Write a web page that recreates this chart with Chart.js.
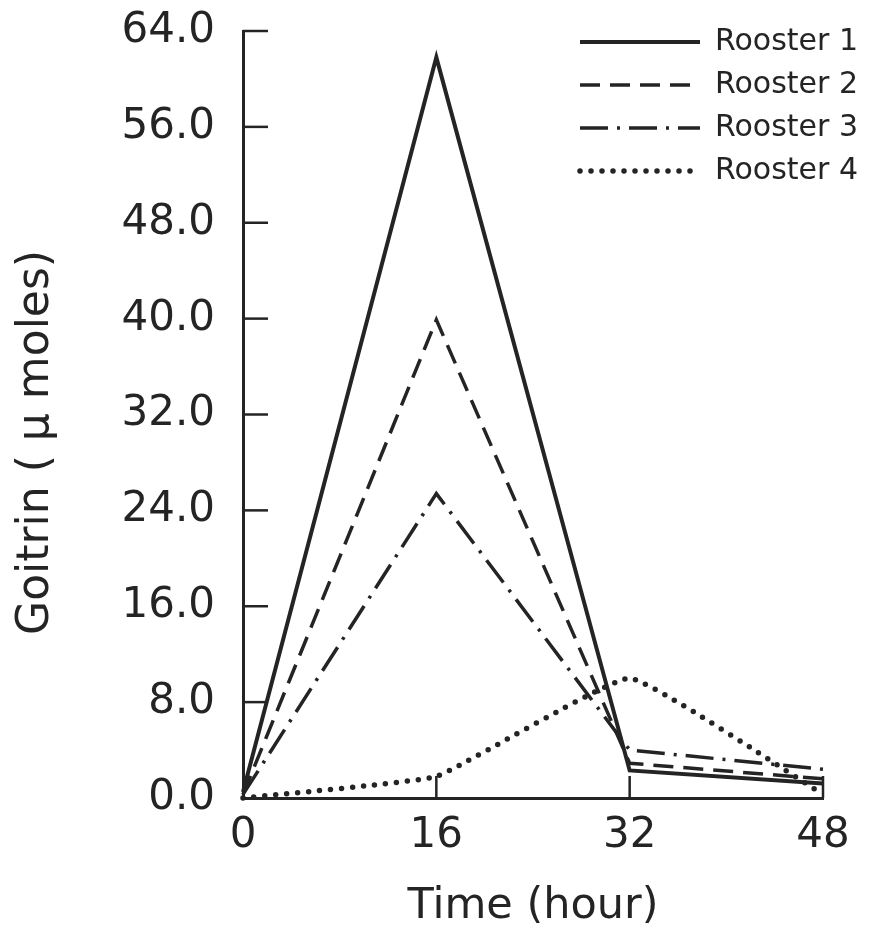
<!DOCTYPE html>
<html lang="en">
<head>
  <meta charset="UTF-8">
  <title>Goitrin by rooster</title>
  <script src="https://cdn.jsdelivr.net/npm/chart.js"></script>
  <style>
    html, body { margin: 0; padding: 0; background: #fff; }
    #wrap { width: 890px; height: 935px; }
  </style>
</head>
<body>
  <div id="wrap"><canvas id="goitrin"></canvas></div>

  <script>
    // values (umoles goitrin at each time point)
    const hours = [0, 16, 32, 48];
    const rooster1 = [0.5, 61.8, 2.3, 1.2];
    const rooster2 = [0.3, 39.9, 2.9, 1.6];
    const rooster3 = [0.3, 25.4, 4.0, 2.4];
    const rooster4 = [0.0, 1.8, 10.0, 0.3];
    const roosterNames = ['Rooster 1', 'Rooster 2', 'Rooster 3', 'Rooster 4'];
    const yTicks = [0, 8, 16, 24, 32, 40, 48, 56, 64];
    const xTicks = [0, 16, 32, 48];

    const ink = '#242424';
    const face = '"DejaVu Sans", sans-serif';

    function pts(vals) {
      return hours.map((h, i) => ({ x: h, y: vals[i] }));
    }

    // short tick marks pointing into the plot, like the original
    const innerTicks = {
      id: 'innerTicks',
      beforeDatasetsDraw(chart) {
        const { ctx, chartArea, scales } = chart;
        ctx.save();
        ctx.strokeStyle = ink;
        ctx.lineWidth = 2.5;
        yTicks.forEach(v => {
          if (v === 0) return;
          const py = scales.y.getPixelForValue(v);
          ctx.beginPath();
          ctx.moveTo(chartArea.left, py);
          ctx.lineTo(chartArea.left + 25, py);
          ctx.stroke();
        });
        xTicks.forEach(v => {
          if (v === 0) return;
          const px = scales.x.getPixelForValue(v);
          ctx.beginPath();
          ctx.moveTo(px, chartArea.bottom);
          ctx.lineTo(px, chartArea.bottom - 22);
          ctx.stroke();
        });
        ctx.restore();
      }
    };

    // move the legend box to the top right corner of the plot
    const legendSpot = {
      id: 'legendSpot',
      afterLayout(chart) {
        const lg = chart.legend;
        if (!lg) return;
        lg.left = 567;
        lg.right = 890;
        lg.width = lg.right - lg.left;
        lg.top = 14;
        lg.bottom = 260;
        lg.height = lg.bottom - lg.top;
      }
    };

    const common = { borderColor: ink, pointRadius: 0, fill: false, clip: false, tension: 0 };

    new Chart(document.getElementById('goitrin'), {
      type: 'line',
      data: {
        datasets: [
          { ...common, label: roosterNames[0], data: pts(rooster1), borderWidth: 4 },
          { ...common, label: roosterNames[1], data: pts(rooster2), borderWidth: 3.5, borderDash: [20, 10] },
          { ...common, label: roosterNames[2], data: pts(rooster3), borderWidth: 3.5, borderDash: [28, 9, 3, 9] },
          { ...common, label: roosterNames[3], data: pts(rooster4), borderWidth: 5.5, borderDash: [0, 11],
            borderCapStyle: 'round', tension: 0.1 }
        ]
      },
      options: {
        responsive: true,
        maintainAspectRatio: false,
        animation: false,
        layout: { autoPadding: false, padding: { top: 31, right: 67, left: 6, bottom: 0 } },
        plugins: {
          tooltip: { enabled: false },
          legend: {
            position: 'chartArea',
            align: 'start',
            labels: {
              usePointStyle: true,
              pointStyle: 'line',
              pointStyleWidth: 120,
              padding: 13,
              color: ink,
              font: { family: face, size: 30 },
              // legend samples carry each dataset's own dash pattern
              generateLabels: chart => chart.data.datasets.map((ds, i) => ({
                text: ds.label,
                datasetIndex: i,
                pointStyle: 'line',
                strokeStyle: ds.borderColor,
                fillStyle: ds.borderColor,
                fontColor: ink,
                lineWidth: ds.borderWidth,
                lineDash: ds.borderDash || [],
                lineCap: ds.borderCapStyle || 'butt',
                hidden: false
              }))
            }
          }
        },
        scales: {
          x: {
            type: 'linear',
            min: 0,
            max: 48,
            afterFit: s => { s.height = 137; },
            afterBuildTicks: s => { s.ticks = xTicks.map(v => ({ value: v })); },
            grid: { display: false, drawTicks: false },
            border: { display: true, color: ink, width: 3 },
            ticks: { color: ink, padding: 13, maxRotation: 0, font: { family: face, size: 42 } },
            title: {
              display: true,
              text: 'Time (hour)',
              color: ink,
              padding: { top: 0, bottom: 2 },
              font: { family: face, size: 43 }
            }
          },
          y: {
            min: 0,
            max: 64,
            afterFit: s => {
              s.width = 237;
              // tick padding would otherwise push the plot top down
              s.paddingTop = 0;
              s.paddingBottom = 0;
            },
            afterBuildTicks: s => { s.ticks = yTicks.map(v => ({ value: v })); },
            grid: { display: false, drawTicks: false },
            border: { display: true, color: ink, width: 3 },
            ticks: {
              color: ink,
              padding: 28,
              font: { family: face, size: 42 },
              callback: v => v.toFixed(1)
            },
            title: {
              display: true,
              // trailing spaces nudge the centred title down a little, as in the original
              text: 'Goitrin ( \u03BC moles)    ',
              color: ink,
              padding: { top: 4, bottom: 4 },
              font: { family: face, size: 44 }
            }
          }
        }
      },
      plugins: [innerTicks, legendSpot]
    });
  </script>
</body>
</html>
